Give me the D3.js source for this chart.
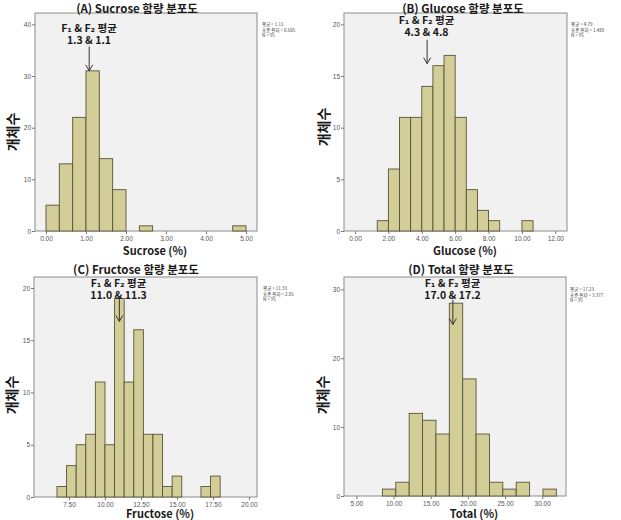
<!DOCTYPE html>
<html><head><meta charset="utf-8">
<script src="https://cdn.jsdelivr.net/npm/d3@7"></script>
<style>body{margin:0;background:#fff;} svg{display:block;}</style>
</head><body>
<svg id="c" width="621" height="520"></svg>
<script>
// ---------- DATA ----------
const sucroseBinStart = [0, 0.333, 0.667, 1.0, 1.333, 1.667, 2.333, 4.667];
const sucroseCounts   = [5, 13, 22, 31, 14, 8, 1, 1];
const sucroseBinWidth = 0.333;
const sucroseTicksX   = [0, 1, 2, 3, 4, 5];
const sucroseTicksY   = [0, 10, 20, 30, 40];
const sucroseStats    = ["평균 = 1.11", "표준 편차 = 0.605", "N = 95"];
const sucroseMeans    = "1.3 & 1.1";

const glucoseBinStart = [1.333, 2.0, 2.667, 3.333, 4.0, 4.667, 5.333, 6.0, 6.667, 7.333, 8.0, 10.0];
const glucoseCounts   = [1, 6, 11, 11, 14, 16, 17, 11, 4, 2, 1, 1];
const glucoseBinWidth = 0.667;
const glucoseTicksX   = [0, 2, 4, 6, 8, 10, 12];
const glucoseTicksY   = [0, 5, 10, 15, 20];
const glucoseStats    = ["평균 = 4.79", "표준 편차 = 1.489", "N = 95"];
const glucoseMeans    = "4.3 & 4.8";

const fructoseBinStart = [6.667, 7.333, 8.0, 8.667, 9.333, 10.0, 10.667, 11.333, 12.0, 12.667, 13.333, 14.0, 14.667, 16.667, 17.333];
const fructoseCounts   = [1, 3, 5, 6, 11, 5, 19, 11, 16, 6, 6, 1, 2, 1, 2];
const fructoseBinWidth = 0.667;
const fructoseTicksX   = [7.5, 10, 12.5, 15, 17.5, 20];
const fructoseTicksY   = [0, 5, 10, 15, 20];
const fructoseStats    = ["평균 = 11.33", "표준 편차 = 2.05", "N = 95"];
const fructoseMeans    = "11.0 & 11.3";

const totalBinStart = [8.5, 10.3, 12.1, 13.9, 15.7, 17.5, 19.3, 21.1, 22.9, 24.7, 26.5, 30.1];
const totalCounts   = [1, 2, 12, 11, 9, 28, 17, 9, 2, 1, 2, 1];
const totalBinWidth = 1.8;
const totalTicksX   = [5, 10, 15, 20, 25, 30];
const totalTicksY   = [0, 10, 20, 30];
const totalStats    = ["평균 = 17.23", "표준 편차 = 3.377", "N = 95"];
const totalMeans    = "17.0 & 17.2";

const titles  = ["(A) Sucrose 함량 분포도", "(B) Glucose 함량 분포도", "(C) Fructose 함량 분포도", "(D) Total 함량 분포도"];
const xLabels = ["Sucrose (%)", "Glucose (%)", "Fructose (%)", "Total (%)"];
const yLabel  = "개체수";
const meanHeader = "F₁ & F₂ 평균";

// ---------- LAYOUT ----------
const panels = [
  {starts: sucroseBinStart, counts: sucroseCounts, bw: sucroseBinWidth, tx: sucroseTicksX, ty: sucroseTicksY,
   stats: sucroseStats, means: sucroseMeans, title: titles[0], xl: xLabels[0],
   fx0: 35, fx1: 257, fy0: 13, fy1: 231, xd: [-0.275, 5.275], yd: [0, 42.2],
   titleX: 137, titleY: 13, xlX: 155, xlY: 255, ylX: 13, ylY: 132,
   annX: 89, annY1: 32, annY2: 43.5, arrowX: 1.08, arrowFrom: 35.7, arrowTo: 31, statsX: 262, statsY: 26},
  {starts: glucoseBinStart, counts: glucoseCounts, bw: glucoseBinWidth, tx: glucoseTicksX, ty: glucoseTicksY,
   stats: glucoseStats, means: glucoseMeans, title: titles[1], xl: xLabels[1],
   fx0: 344, fx1: 567, fy0: 13, fy1: 231, xd: [-0.66, 12.7], yd: [0, 21.1],
   titleX: 463, titleY: 13, xlX: 465, xlY: 255, ylX: 324, ylY: 127,
   annX: 426.5, annY1: 24, annY2: 35.5, arrowX: 4.32, arrowFrom: 18.5, arrowTo: 16.2, statsX: 571, statsY: 26},
  {starts: fructoseBinStart, counts: fructoseCounts, bw: fructoseBinWidth, tx: fructoseTicksX, ty: fructoseTicksY,
   stats: fructoseStats, means: fructoseMeans, title: titles[2], xl: xLabels[2],
   fx0: 34, fx1: 257, fy0: 277, fy1: 497, xd: [5.07, 20.56], yd: [0, 21.05],
   titleX: 136, titleY: 274, xlX: 160, xlY: 518, ylX: 12, ylY: 395,
   annX: 118.5, annY1: 287, annY2: 298.5, arrowX: 11.0, arrowFrom: 19, arrowTo: 16.8, statsX: 263, statsY: 290},
  {starts: totalBinStart, counts: totalCounts, bw: totalBinWidth, tx: totalTicksX, ty: totalTicksY,
   stats: totalStats, means: totalMeans, title: titles[3], xl: xLabels[3],
   fx0: 344, fx1: 566, fy0: 277, fy1: 496, xd: [3.33, 33.2], yd: [0, 31.8],
   titleX: 461, titleY: 274, xlX: 474, xlY: 518, ylX: 323, ylY: 395,
   annX: 452.5, annY1: 287, annY2: 298.5, arrowX: 17.98, arrowFrom: 28.5, arrowTo: 24.9, statsX: 570, statsY: 291}
];

const svg = d3.select("#c");
const KR = "'Noto Sans CJK KR', 'DejaVu Sans', sans-serif";
const SANS = "'Liberation Sans', Arial, sans-serif";

panels.forEach(p => {
  const x = d3.scaleLinear().domain(p.xd).range([p.fx0, p.fx1]);
  const y = d3.scaleLinear().domain(p.yd).range([p.fy1, p.fy0]);
  const g = svg.append("g");

  // frame background
  g.append("rect").attr("x", p.fx0).attr("y", p.fy0)
    .attr("width", p.fx1 - p.fx0).attr("height", p.fy1 - p.fy0)
    .attr("fill", "#f1f1f1").attr("stroke", "#8c8c8c").attr("stroke-width", 1);

  // bars
  const bins = p.starts.map((s, i) => ({x0: s, x1: s + p.bw, n: p.counts[i]}));
  g.selectAll("rect.bar").data(bins).join("rect").attr("class", "bar")
    .attr("x", d => x(d.x0)).attr("width", d => x(d.x1) - x(d.x0))
    .attr("y", d => y(d.n)).attr("height", d => y(0) - y(d.n))
    .attr("fill", "#d3ce97").attr("stroke", "#57533a").attr("stroke-width", 0.9);

  // axes
  const ax = g.append("g").attr("transform", `translate(0,${p.fy1})`)
    .call(d3.axisBottom(x).tickValues(p.tx).tickSize(3).tickPadding(2).tickFormat(d3.format(".2f")));
  const ay = g.append("g").attr("transform", `translate(${p.fx0},0)`)
    .call(d3.axisLeft(y).tickValues(p.ty).tickSize(3).tickPadding(1).tickFormat(d3.format("d")));
  [ax, ay].forEach(a => {
    a.select(".domain").remove();
    a.selectAll("line").attr("stroke", "#777");
    a.selectAll("text").attr("fill", "#555").style("font-family", SANS).style("font-size", "6.5px");
  });

  // title
  g.append("text").attr("x", p.titleX).attr("y", p.titleY).attr("text-anchor", "middle")
    .style("font-family", KR).style("font-size", "11.5px").style("font-weight", "bold")
    .attr("fill", "#1a1a1a").text(p.title);

  // x label
  g.append("text").attr("x", p.xlX).attr("y", p.xlY).attr("text-anchor", "middle")
    .style("font-family", KR).style("font-size", "11px").style("font-weight", "bold")
    .attr("fill", "#1a1a1a").text(p.xl);

  // y label
  g.append("text").attr("transform", `translate(${p.ylX + 5},${p.ylY}) rotate(-90)`)
    .attr("text-anchor", "middle")
    .style("font-family", KR).style("font-size", "14px").style("font-weight", "bold")
    .attr("fill", "#1a1a1a").text(yLabel);

  // stats
  g.append("g").selectAll("text").data(p.stats).join("text")
    .attr("x", p.statsX).attr("y", (d, i) => p.statsY + i * 5.5)
    .style("font-family", KR).style("font-size", "4.5px").attr("fill", "#444").text(d => d);

  // annotation
  g.append("text").attr("x", p.annX).attr("y", p.annY1).attr("text-anchor", "middle")
    .style("font-family", KR).style("font-size", "10.5px").style("font-weight", "bold")
    .attr("fill", "#1a1a1a").text(meanHeader);
  g.append("text").attr("x", p.annX).attr("y", p.annY2).attr("text-anchor", "middle")
    .style("font-family", KR).style("font-size", "10.5px").style("font-weight", "bold")
    .attr("fill", "#1a1a1a").text(p.means);

  // arrow
  const ax0 = x(p.arrowX), ay0 = y(p.arrowFrom), ay1 = y(p.arrowTo);
  g.append("line").attr("x1", ax0).attr("x2", ax0).attr("y1", ay0).attr("y2", ay1)
    .attr("stroke", "#333").attr("stroke-width", 1);
  g.append("path").attr("d", `M${ax0 - 3.5},${ay1 - 6}L${ax0},${ay1}L${ax0 + 3.5},${ay1 - 6}`)
    .attr("fill", "none").attr("stroke", "#333").attr("stroke-width", 1);
});
</script>
</body></html>
